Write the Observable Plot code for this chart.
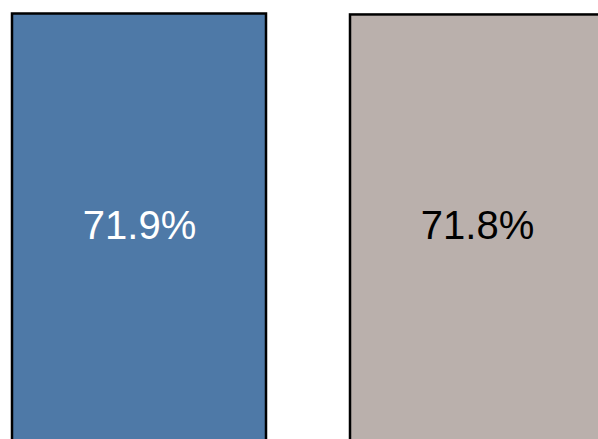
<!DOCTYPE html>
<html>
<head>
<meta charset="utf-8">
<script src="https://cdn.jsdelivr.net/npm/d3@7"></script>
<script src="https://cdn.jsdelivr.net/npm/@observablehq/plot@0.6"></script>
<style>
  html, body { margin: 0; padding: 0; background: #fff; }
  svg { display: block; }
</style>
</head>
<body>
<div id="chart"></div>
<script>
const categories = ["Group A", "Group B"];
const values = [71.9, 71.8];
const labels = ["71.9%", "71.8%"];
const fills = ["#4e79a7", "#bab0ac"];
const textColors = ["#ffffff", "#000000"];

const data = categories.map((c, i) => ({
  category: c, value: values[i], label: labels[i], fill: fills[i], textColor: textColors[i]
}));

const chart = Plot.plot({
  width: 598,
  height: 439,
  marginTop: 13,
  marginBottom: 0,
  marginLeft: 0,
  marginRight: 0,
  x: {domain: categories, range: [11, 604], paddingInner: 0.25, paddingOuter: 0, axis: null},
  y: {domain: [0, 71.9], range: [700, 13.5], axis: null},
  marks: [
    Plot.barY(data, {
      x: "category", y: "value",
      fill: d => d.fill,
      stroke: "#000", strokeWidth: 2.5
    }),
    Plot.text(data, {
      x: "category",
      frameAnchor: "middle",
      text: "label",
      fill: d => d.textColor,
      fontSize: 40,
      fontFamily: "'Liberation Sans Narrow', 'Arial Narrow', sans-serif"
    })
  ]
});
document.getElementById("chart").append(chart);
</script>
</body>
</html>
